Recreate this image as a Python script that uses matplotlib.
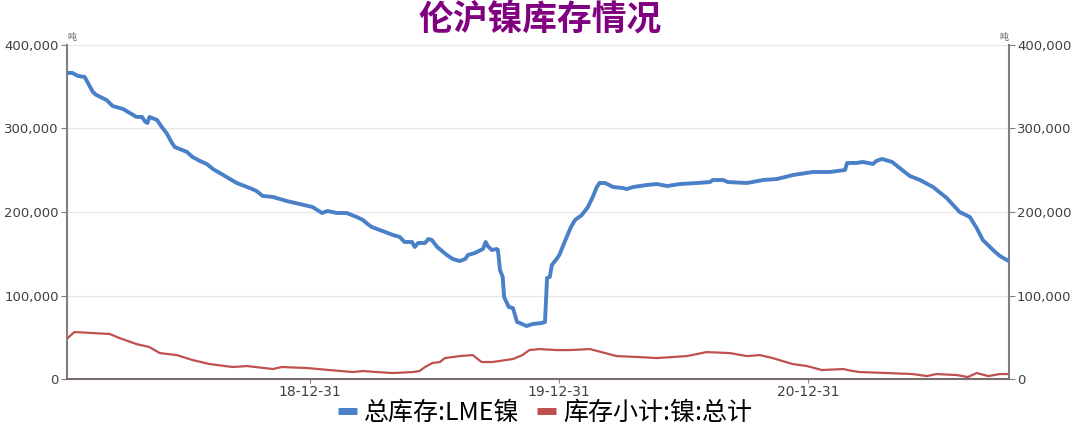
import pandas as pd
import matplotlib.pyplot as plt
import matplotlib.dates as mdates
from matplotlib.lines import Line2D
from matplotlib.ticker import FuncFormatter

plt.rcParams['font.family'] = ['Noto Sans CJK SC', 'DejaVu Sans']

# 总库存:LME镍 (吨)
lme_dates = [
    '2018-01-10', '2018-01-17', '2018-01-25', '2018-02-04', '2018-02-08', '2018-02-16',
    '2018-02-21', '2018-03-08', '2018-03-17', '2018-03-27', '2018-04-01', '2018-04-11',
    '2018-04-21', '2018-04-29', '2018-05-04', '2018-05-07', '2018-05-10', '2018-05-21',
    '2018-05-28', '2018-06-04', '2018-06-12', '2018-06-16', '2018-07-04', '2018-07-12',
    '2018-07-23', '2018-08-02', '2018-08-11', '2018-08-31', '2018-09-15', '2018-10-04',
    '2018-10-14', '2018-10-23', '2018-11-07', '2018-11-27', '2018-12-16', '2019-01-04',
    '2019-01-18', '2019-01-26', '2019-02-09', '2019-02-23', '2019-03-10', '2019-03-19',
    '2019-03-26', '2019-04-01', '2019-04-13', '2019-05-02', '2019-05-12', '2019-05-19',
    '2019-05-30', '2019-06-03', '2019-06-08', '2019-06-18', '2019-06-23', '2019-06-28',
    '2019-07-06', '2019-07-20', '2019-07-29', '2019-08-08', '2019-08-16', '2019-08-20',
    '2019-08-30', '2019-09-11', '2019-09-15', '2019-09-18', '2019-09-24', '2019-10-01',
    '2019-10-03', '2019-10-06', '2019-10-10', '2019-10-12', '2019-10-19', '2019-10-25',
    '2019-10-31', '2019-11-04', '2019-11-14', '2019-11-23', '2019-12-06', '2019-12-11',
    '2019-12-14', '2019-12-18', '2019-12-21', '2019-12-28', '2020-01-01', '2020-01-10',
    '2020-01-18', '2020-01-24', '2020-02-03', '2020-02-12', '2020-02-19', '2020-02-25',
    '2020-02-29', '2020-03-08', '2020-03-20', '2020-04-03', '2020-04-09', '2020-04-18',
    '2020-05-08', '2020-05-23', '2020-06-07', '2020-06-26', '2020-07-21', '2020-08-09',
    '2020-08-13', '2020-08-28', '2020-09-04', '2020-10-02', '2020-10-26', '2020-11-15',
    '2020-12-09', '2021-01-07', '2021-02-01', '2021-02-23', '2021-02-26', '2021-03-12',
    '2021-03-21', '2021-04-05', '2021-04-10', '2021-04-18', '2021-05-03', '2021-05-14',
    '2021-05-29', '2021-06-13', '2021-07-02', '2021-07-22', '2021-08-10', '2021-08-25',
    '2021-09-04', '2021-09-13', '2021-09-28', '2021-10-08', '2021-10-21',
]
lme_values = [
    366500, 366500, 362900, 361700, 355700, 343700,
    340100, 334100, 326900, 324500, 323400, 318600,
    313800, 313800, 307800, 306600, 313800, 310200,
    301800, 294600, 282600, 277800, 271900, 265900,
    261100, 257500, 251500, 241900, 234700, 228700,
    225100, 219200, 218000, 213200, 209600, 206000,
    198800, 201200, 198800, 198800, 194000, 190400,
    185600, 182000, 178400, 172500, 170100, 164100,
    164100, 158100, 162900, 162900, 167700, 166500,
    158100, 148500, 143700, 141300, 143700, 148500,
    150900, 155700, 164100, 159300, 154500, 155700,
    154500, 130500, 122200, 98200, 86200, 85000,
    68300, 67100, 63500, 65900, 67100, 68300,
    121000, 122200, 136500, 143700, 148500, 166500,
    182000, 190400, 196400, 206000, 218000, 229900,
    234700, 234700, 229900, 228700, 227500, 229900,
    232300, 233500, 231100, 233500, 234700, 235900,
    238300, 238300, 235900, 234700, 238300, 239500,
    244300, 247900, 247900, 250300, 258700, 258700,
    259900, 257500, 261100, 263500, 259900, 252700,
    243100, 238300, 229900, 216800, 200000, 194000,
    180800, 166500, 154500, 147300, 141300,
]

# 库存小计:镍:总计 (吨)
shfe_dates = [
    '2018-01-10', '2018-01-20', '2018-02-16', '2018-03-13', '2018-03-27', '2018-04-21',
    '2018-05-10', '2018-05-25', '2018-06-19', '2018-07-12', '2018-08-06', '2018-09-09',
    '2018-09-30', '2018-11-07', '2018-11-20', '2018-12-27', '2019-01-29', '2019-03-04',
    '2019-03-19', '2019-04-08', '2019-05-02', '2019-05-31', '2019-06-10', '2019-06-18',
    '2019-06-29', '2019-07-10', '2019-07-17', '2019-08-08', '2019-08-27', '2019-09-09',
    '2019-09-25', '2019-10-25', '2019-11-08', '2019-11-18', '2019-12-03', '2019-12-28',
    '2020-01-16', '2020-02-15', '2020-03-25', '2020-04-28', '2020-05-23', '2020-07-06',
    '2020-08-04', '2020-09-07', '2020-10-02', '2020-10-21', '2020-11-09', '2020-12-08',
    '2020-12-29', '2021-01-20', '2021-02-20', '2021-03-06', '2021-03-17', '2021-04-25',
    '2021-06-02', '2021-06-23', '2021-07-07', '2021-08-06', '2021-08-22', '2021-09-04',
    '2021-09-21', '2021-10-08', '2021-10-21',
]
shfe_values = [
    49100, 56300, 55100, 53900, 49100, 41900,
    38300, 31100, 28700, 22800, 18000, 14400,
    15600, 12000, 14400, 13200, 10800, 8400,
    9600, 8400, 7200, 8400, 9600, 14400,
    19200, 20400, 25100, 27500, 28700, 20400,
    20400, 24000, 28700, 34700, 35900, 34700,
    34700, 35900, 27500, 26300, 25100, 27500,
    32300, 31100, 27500, 28700, 25100, 18000,
    15600, 10800, 12000, 9600, 8400, 7200,
    6000, 3600, 6000, 4800, 2400, 7200,
    3600, 6000, 6000,
]

xtick_dates = ['2018-12-31', '2019-12-31', '2020-12-31']
ytick_values = [0, 100000, 200000, 300000, 400000]

blue = '#4A80C8'
red = '#C0504D'
label_color = '#404040'

fig = plt.figure(figsize=(10.8, 4.24), dpi=100)
ax = fig.add_axes([0.062, 0.106, 0.872, 0.788])

ax.plot(pd.to_datetime(lme_dates), lme_values, color=blue, lw=2.8,
        solid_joinstyle='round', zorder=3)
ax.plot(pd.to_datetime(shfe_dates), shfe_values, color=red, lw=1.6,
        solid_joinstyle='round', zorder=3)

ax.set_xlim(pd.Timestamp('2018-01-09'), pd.Timestamp('2021-10-21'))
ax.set_ylim(0, 400000)
ax.set_yticks(ytick_values)
ax.yaxis.set_major_formatter(FuncFormatter(lambda v, p: f'{int(v):,}'))
ax.set_xticks(pd.to_datetime(xtick_dates))
ax.xaxis.set_major_formatter(mdates.DateFormatter('%y-%m-%d'))

ax.grid(axis='y', color='#e8e8e8', lw=1)
ax.set_axisbelow(True)
ax.tick_params(axis='y', which='both', left=True, right=True, labelleft=True,
               labelright=True, length=4, color='#808080', labelsize=9.5,
               labelcolor=label_color, pad=2)
ax.tick_params(axis='x', length=3, color='#808080', labelsize=10,
               labelcolor=label_color, pad=1)
for lab in ax.get_xticklabels() + ax.get_yticklabels():
    lab.set_family('DejaVu Sans')
for side in ['left', 'right']:
    ax.spines[side].set_color('#7f7f7f')
    ax.spines[side].set_linewidth(1.5)
ax.spines['bottom'].set_color('#7a6e6e')
ax.spines['bottom'].set_linewidth(1.5)
ax.spines['top'].set_visible(False)

# 单位
ax.text(0.0, 1.01, '吨', transform=ax.transAxes, fontsize=6.5, color='#606060',
        ha='left', va='bottom')
ax.text(1.0, 1.01, '吨', transform=ax.transAxes, fontsize=6.5, color='#606060',
        ha='right', va='bottom')

fig.text(0.5, 0.955, '伦沪镍库存情况', ha='center', va='center', fontsize=25,
         fontweight='bold', color='#800080')

handles = [Line2D([], [], color=blue, lw=5, solid_capstyle='butt'),
           Line2D([], [], color=red, lw=5, solid_capstyle='butt')]
fig.legend(handles, ['总库存:LME镍', '库存小计:镍:总计'], loc='center',
           bbox_to_anchor=(0.505, 0.026), ncol=2, frameon=False, fontsize=18,
           handlelength=0.75, handletextpad=0.3, columnspacing=0.7,
           borderpad=0, borderaxespad=0)

plt.savefig('out.png', dpi=100)
